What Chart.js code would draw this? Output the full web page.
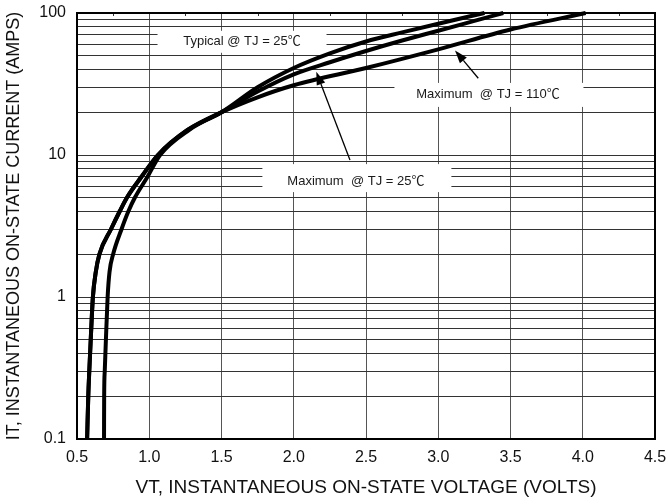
<!DOCTYPE html>
<html>
<head>
<meta charset="utf-8">
<script src="https://cdn.jsdelivr.net/npm/chart.js@4.4.1/dist/chart.umd.min.js"></script>
<style>
  html, body { margin: 0; padding: 0; background: #ffffff; }
  canvas { display: block; }
</style>
</head>
<body>
<canvas id="c" width="668" height="504"></canvas>
<script>
// ---------------- data ----------------
// Typical @ TJ = 25C
const typ25Volts = [0.570, 0.578, 0.585, 0.595, 0.610, 0.630, 0.655, 0.735, 0.795, 0.845, 0.945, 1.060, 1.265, 1.500, 1.750, 2.000, 2.250, 2.500, 2.750, 3.000, 3.320];
const typ25Amps  = [0.1,   0.2,   0.3,   0.5,   1,     1.5,   2,     3,     4,     5,     7,     10,    15,    20,    30,    41,    52,    63,    73,    84,    100];
// Maximum @ TJ = 25C
const max25Volts = [0.687, 0.688, 0.692, 0.700, 0.712, 0.725, 0.750, 0.808, 0.855, 0.900, 0.987, 1.075, 1.275, 1.500, 1.750, 2.000, 2.250, 2.500, 2.750, 3.000, 3.250, 3.450];
const max25Amps  = [0.1,   0.2,   0.3,   0.5,   1,     1.5,   2,     3,     4,     5,     7,     10,    15,    20,    28,    37,    45,    54,    64,    75,    88,    100];
// Maximum @ TJ = 110C
const max110Volts = [0.570, 0.578, 0.585, 0.595, 0.610, 0.630, 0.655, 0.735, 0.795, 0.845, 0.945, 1.060, 1.265, 1.500, 1.750, 2.000, 2.500, 3.000, 3.500, 4.020];
const max110Amps  = [0.1,   0.2,   0.3,   0.5,   1,     1.5,   2,     3,     4,     5,     7,     10,    15,    20,    25.5,  31,    41,    55.5,  76.5,  100];

// axis ticks
const xTickValues = [0.5, 1.0, 1.5, 2.0, 2.5, 3.0, 3.5, 4.0, 4.5];
const xTickLabels = ['0.5', '1.0', '1.5', '2.0', '2.5', '3.0', '3.5', '4.0', '4.5'];
const yTickValues = [0.1, 1, 10, 100];
const yTickLabels = ['0.1', '1', '10', '100'];

// axis titles
const xTitle = 'VT, INSTANTANEOUS ON-STATE VOLTAGE (VOLTS)';
const yTitle = 'IT, INSTANTANEOUS ON-STATE CURRENT (AMPS)';

// annotation labels (anchor in data units: volts, amps)
const noteTexts = ['Typical @ TJ = 25\u2103', 'Maximum  @ TJ = 110\u2103', 'Maximum  @ TJ = 25\u2103'];
const noteVolts = [1.642, 3.344, 2.430];
const noteAmps  = [62.7, 26.5, 6.55];

// arrows (data units)
const arrowFromVolts = [2.389, 3.277];
const arrowFromAmps  = [9.22, 34.7];
const arrowToVolts   = [2.156, 3.116];
const arrowToAmps    = [38.5, 54.5];

// ---------------- styles ----------------
const FONT = '"Liberation Sans", Arial, "Noto Sans CJK SC", sans-serif';
const noteBoxStyle = [
  { w: 169, h: 22, dx: 0, dy: 0 },
  { w: 189, h: 24, dx: 1, dy: 0 },
  { w: 189, h: 28, dx: 1, dy: -3 }
];

function pts(xs, ys) { return xs.map((x, i) => ({ x: x, y: ys[i] })); }

// log grid positions (1..9 per decade)
const yGrid = [];
[0.1, 1, 10].forEach(d => { for (let k = 1; k <= 9; k++) yGrid.push(+(d * k).toPrecision(6)); });
yGrid.push(100);

const lineStyle = {
  showLine: true, borderColor: '#000', backgroundColor: '#000', borderWidth: 4,
  pointRadius: 0, cubicInterpolationMode: 'monotone', fill: false, clip: 5,
  borderCapStyle: 'butt', borderJoinStyle: 'round'
};

const notesPlugin = {
  id: 'notes',
  beforeDatasetsDraw(chart) {
    const { ctx, scales: { x, y }, chartArea: a } = chart;
    ctx.save();
    // small ticks along top edge at quarter volts
    ctx.strokeStyle = '#333';
    ctx.lineWidth = 1;
    for (let v = 0.75; v < 4.5; v += 0.5) {
      const px = Math.round(x.getPixelForValue(v)) + 0.5;
      ctx.beginPath(); ctx.moveTo(px, a.top); ctx.lineTo(px, a.top + 3); ctx.stroke();
    }
    // label boxes + texts
    ctx.font = '13px ' + FONT;
    ctx.textAlign = 'center';
    ctx.textBaseline = 'middle';
    noteTexts.forEach((t, i) => {
      const px = x.getPixelForValue(noteVolts[i]);
      const py = y.getPixelForValue(noteAmps[i]);
      const s = noteBoxStyle[i];
      ctx.fillStyle = '#fff';
      ctx.fillRect(px + s.dx - s.w / 2, py + s.dy - s.h / 2, s.w, s.h);
      ctx.fillStyle = '#1a1a1a';
      ctx.fillText(t, px, py);
    });
    ctx.restore();
  },
  afterDatasetsDraw(chart) {
    const { ctx, scales: { x, y }, chartArea: a } = chart;
    ctx.save();
    // arrows
    ctx.strokeStyle = '#000';
    ctx.fillStyle = '#000';
    arrowFromVolts.forEach((v, i) => {
      const x0 = x.getPixelForValue(v), y0 = y.getPixelForValue(arrowFromAmps[i]);
      const x1 = x.getPixelForValue(arrowToVolts[i]), y1 = y.getPixelForValue(arrowToAmps[i]);
      const ang = Math.atan2(y1 - y0, x1 - x0);
      const L = 13, W = 4.5;
      const bx = x1 - L * Math.cos(ang), by = y1 - L * Math.sin(ang);
      ctx.lineWidth = 1.3;
      ctx.beginPath(); ctx.moveTo(x0, y0); ctx.lineTo(bx, by); ctx.stroke();
      ctx.beginPath();
      ctx.moveTo(x1, y1);
      ctx.lineTo(bx + W * Math.sin(ang), by - W * Math.cos(ang));
      ctx.lineTo(bx - W * Math.sin(ang), by + W * Math.cos(ang));
      ctx.closePath(); ctx.fill();
    });
    // frame
    ctx.lineWidth = 2;
    ctx.strokeStyle = '#000';
    ctx.strokeRect(a.left, a.top, a.right - a.left, a.bottom - a.top);
    ctx.restore();
  }
};

new Chart(document.getElementById('c'), {
  type: 'scatter',
  data: {
    datasets: [
      Object.assign({ label: 'Typical @ TJ = 25\u2103', data: pts(typ25Volts, typ25Amps) }, lineStyle),
      Object.assign({ label: 'Maximum @ TJ = 25\u2103', data: pts(max25Volts, max25Amps) }, lineStyle),
      Object.assign({ label: 'Maximum @ TJ = 110\u2103', data: pts(max110Volts, max110Amps) }, lineStyle)
    ]
  },
  options: {
    responsive: false,
    animation: false,
    devicePixelRatio: 1,
    layout: { padding: { top: 13, right: 13, bottom: 0, left: 0 } },
    plugins: { legend: { display: false }, tooltip: { enabled: false } },
    scales: {
      x: {
        type: 'linear', min: 0.5, max: 4.5,
        afterBuildTicks(s) { s.ticks = xTickValues.map(v => ({ value: v })); },
        ticks: {
          autoSkip: false, maxRotation: 0, padding: 9, color: '#111',
          font: { family: FONT, size: 16 },
          callback(v) { const i = xTickValues.findIndex(t => Math.abs(t - v) < 1e-9); return i >= 0 ? xTickLabels[i] : ''; }
        },
        grid: { color: '#555', lineWidth: 1, drawTicks: false },
        border: { display: false },
        title: { display: true, text: xTitle, color: '#111', font: { family: FONT, size: 19 }, padding: { top: 0, bottom: 5 } },
        afterFit(s) { s.height = 65; s.paddingLeft = 0; s.paddingRight = 0; }
      },
      y: {
        type: 'logarithmic', min: 0.1, max: 100,
        afterBuildTicks(s) { s.ticks = yGrid.map(v => ({ value: v })); },
        ticks: {
          autoSkip: false, padding: 11, color: '#111',
          font: { family: FONT, size: 16 },
          callback(v) { const i = yTickValues.findIndex(t => Math.abs(t - v) < 1e-9); return i >= 0 ? yTickLabels[i] : ''; }
        },
        grid: { color: '#333', lineWidth: 1, drawTicks: false },
        border: { display: false },
        title: { display: true, text: yTitle, color: '#111', font: { family: FONT, size: 18 }, padding: { top: 3, bottom: 0 } },
        afterFit(s) { s.width = 77; s.paddingTop = 0; s.paddingBottom = 0; }
      }
    }
  },
  plugins: [notesPlugin]
});
</script>
</body>
</html>
